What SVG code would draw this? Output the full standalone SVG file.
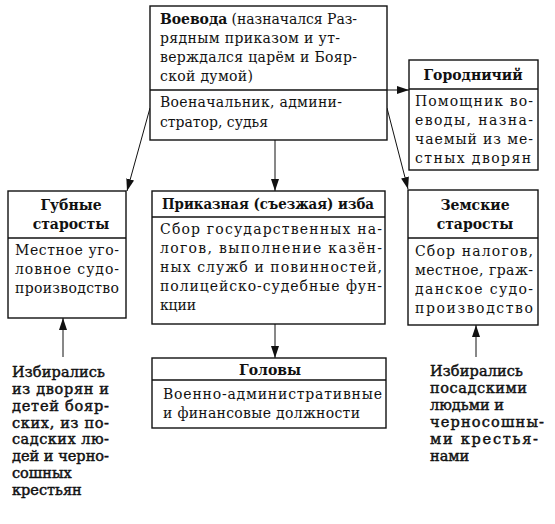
<svg xmlns="http://www.w3.org/2000/svg" width="555" height="524" viewBox="0 0 555 524">
<style>
.box{fill:#fff;stroke:#111;stroke-width:1.4}
.div{stroke:#111;stroke-width:1.3}
text{font-family:"DejaVu Serif","Liberation Serif",serif;font-size:14px;fill:#111}
.t{font-weight:bold;text-anchor:middle}
.b{font-weight:bold}
.c{font-size:14.5px;stroke:#111;stroke-width:0.45}
.con{stroke:#111;stroke-width:1;fill:none;marker-end:url(#ah)}
</style>
<defs>
<marker id="ah" markerUnits="userSpaceOnUse" markerWidth="12" markerHeight="8" refX="12" refY="4" orient="auto">
<path d="M0,0 L12,4 L0,8 z" fill="#111"/>
</marker>
</defs>
<rect width="555" height="524" fill="#fff"/>
<g id="connectors">
<line class="con" x1="387" y1="90" x2="409" y2="90"/>
<line class="con" x1="275" y1="140" x2="275" y2="191"/>
<line class="con" x1="150" y1="108" x2="127" y2="191"/>
<line class="con" x1="387" y1="108" x2="408" y2="189"/>
<line class="con" x1="275" y1="324" x2="275" y2="358"/>
<line class="con" x1="63" y1="357" x2="63" y2="318"/>
<line class="con" x1="476" y1="357" x2="476" y2="325"/>
</g>
<g id="voevoda">
<rect class="box" x="150" y="6" width="237" height="134"/>
<line class="div" x1="150" y1="90" x2="387" y2="90"/>
<text x="160" y="24" textLength="197" lengthAdjust="spacing"><tspan class="b">Воевода</tspan> (назначался Раз-</text>
<text x="160" y="43" textLength="180" lengthAdjust="spacing">рядным приказом и ут-</text>
<text x="160" y="62" textLength="197" lengthAdjust="spacing">верждался царём и Бояр-</text>
<text x="160" y="81" textLength="93" lengthAdjust="spacing">ской думой)</text>
<text x="160" y="107" textLength="182" lengthAdjust="spacing">Военачальник, админи-</text>
<text x="160" y="127" textLength="108" lengthAdjust="spacing">стратор, судья</text>
</g>
<g id="gorodnichiy">
<rect class="box" x="409" y="60" width="129" height="110"/>
<line class="div" x1="409" y1="89" x2="538" y2="89"/>
<text class="t" x="473" y="80">Городничий</text>
<text x="415" y="106" textLength="118" lengthAdjust="spacing">Помощник во-</text>
<text x="415" y="125" textLength="118" lengthAdjust="spacing">еводы, назна-</text>
<text x="415" y="144" textLength="118" lengthAdjust="spacing">чаемый из ме-</text>
<text x="415" y="163" textLength="116" lengthAdjust="spacing">стных дворян</text>
</g>
<g id="gubnye">
<rect class="box" x="8" y="191" width="118" height="127"/>
<line class="div" x1="8" y1="238" x2="126" y2="238"/>
<text class="t" x="71" y="210">Губные</text>
<text class="t" x="71" y="229">старосты</text>
<text x="15" y="255" textLength="104" lengthAdjust="spacing">Местное уго-</text>
<text x="15" y="274" textLength="104" lengthAdjust="spacing">ловное судо-</text>
<text x="15" y="293" textLength="104" lengthAdjust="spacing">производство</text>
</g>
<g id="prikaznaya">
<rect class="box" x="152" y="191" width="233" height="133"/>
<line class="div" x1="152" y1="217" x2="385" y2="217"/>
<text class="t" x="268" y="209" textLength="212" lengthAdjust="spacingAndGlyphs">Приказная (съезжая) изба</text>
<text x="160" y="234" textLength="222" lengthAdjust="spacing">Сбор государственных на-</text>
<text x="160" y="253" textLength="222" lengthAdjust="spacing">логов, выполнение казён-</text>
<text x="160" y="272" textLength="222" lengthAdjust="spacing">ных служб и повинностей,</text>
<text x="160" y="291" textLength="222" lengthAdjust="spacing">полицейско-судебные фун-</text>
<text x="160" y="310" textLength="36" lengthAdjust="spacing">кции</text>
</g>
<g id="zemskie">
<rect class="box" x="408" y="190" width="130" height="135"/>
<line class="div" x1="408" y1="238" x2="538" y2="238"/>
<text class="t" x="475" y="210">Земские</text>
<text class="t" x="475" y="229">старосты</text>
<text x="415" y="256" textLength="118" lengthAdjust="spacing">Сбор налогов,</text>
<text x="415" y="275" textLength="118" lengthAdjust="spacing">местное, граж-</text>
<text x="415" y="294" textLength="118" lengthAdjust="spacing">данское судо-</text>
<text x="415" y="313" textLength="118" lengthAdjust="spacing">производство</text>
</g>
<g id="golovy">
<rect class="box" x="152" y="358" width="234" height="70"/>
<line class="div" x1="152" y1="380" x2="386" y2="380"/>
<text class="t" x="270" y="375">Головы</text>
<text x="163" y="399" textLength="219" lengthAdjust="spacing">Военно-административные</text>
<text x="163" y="418" textLength="197" lengthAdjust="spacing">и финансовые должности</text>
</g>
<g id="caption-left">
<text class="c" x="12" y="377" textLength="93" lengthAdjust="spacing">Избирались</text>
<text class="c" x="12" y="394" textLength="97" lengthAdjust="spacing">из дворян и</text>
<text class="c" x="12" y="411" textLength="97" lengthAdjust="spacing">детей бояр-</text>
<text class="c" x="12" y="428" textLength="97" lengthAdjust="spacing">ских, из по-</text>
<text class="c" x="12" y="444" textLength="97" lengthAdjust="spacing">садских лю-</text>
<text class="c" x="12" y="461" textLength="97" lengthAdjust="spacing">дей и черно-</text>
<text class="c" x="12" y="478">сошных</text>
<text class="c" x="12" y="495">крестьян</text>
</g>
<g id="caption-right">
<text class="c" x="430" y="376" textLength="93" lengthAdjust="spacing">Избирались</text>
<text class="c" x="430" y="393" textLength="97" lengthAdjust="spacing">посадскими</text>
<text class="c" x="430" y="410">людьми и</text>
<text class="c" x="430" y="427" textLength="114" lengthAdjust="spacing">черносошны-</text>
<text class="c" x="430" y="444" textLength="108" lengthAdjust="spacing">ми крестья-</text>
<text class="c" x="430" y="461">нами</text>
</g>
</svg>
